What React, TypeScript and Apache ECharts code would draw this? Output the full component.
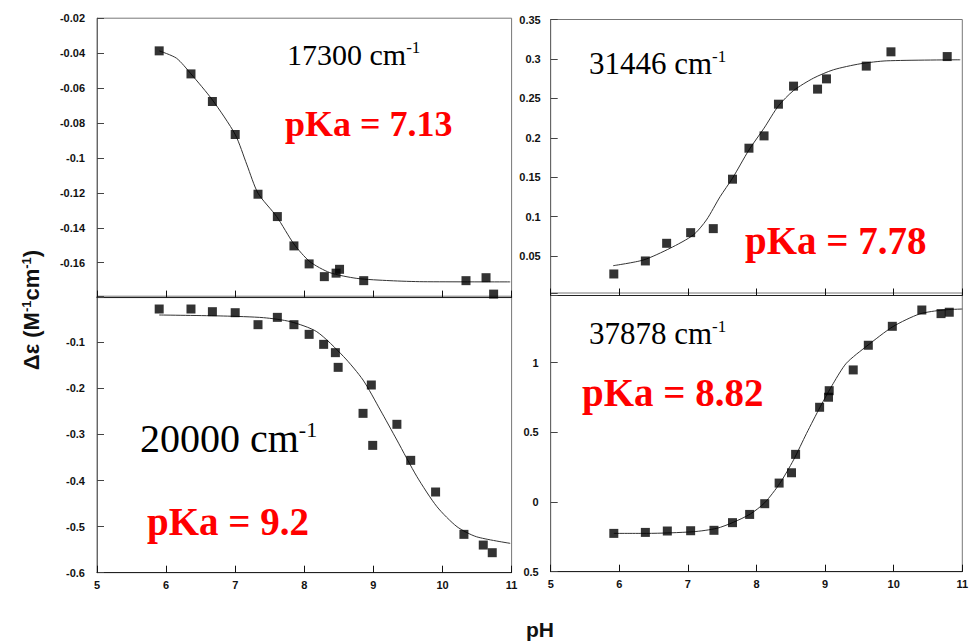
import React, { useEffect, useRef } from "react";
import * as echarts from "echarts";

// ---- measured points (pH, Δε) for each wavenumber ----
const ph17300 = [5.9, 6.36, 6.67, 7.0, 7.33, 7.61, 7.85, 8.07, 8.29, 8.46, 8.51, 8.86, 10.34, 10.63, 10.74];
const de17300 = [-0.0387, -0.0519, -0.0677, -0.0866, -0.1208, -0.1336, -0.1504, -0.1607, -0.168, -0.166, -0.1638, -0.1703, -0.1703, -0.1686, -0.178];

const ph31446 = [5.92, 6.38, 6.69, 7.04, 7.37, 7.65, 7.89, 8.11, 8.32, 8.54, 8.89, 9.02, 9.6, 9.96, 10.78];
const de31446 = [0.0273, 0.0438, 0.0662, 0.0797, 0.0848, 0.1475, 0.1868, 0.2024, 0.2426, 0.2655, 0.2617, 0.2747, 0.2909, 0.309, 0.303];

const ph20000 = [5.9, 6.36, 6.67, 7.0, 7.33, 7.61, 7.85, 8.07, 8.28, 8.45, 8.49, 8.85, 8.97, 8.99, 9.34, 9.54, 9.9, 10.31, 10.59, 10.72];
const de20000 = [-0.0278, -0.0278, -0.0336, -0.0358, -0.0618, -0.0459, -0.0618, -0.0828, -0.1045, -0.1225, -0.1544, -0.2542, -0.1927, -0.3237, -0.278, -0.3562, -0.4249, -0.5168, -0.54, -0.5566];

const ph37878 = [5.92, 6.38, 6.7, 7.04, 7.38, 7.65, 7.9, 8.12, 8.33, 8.51, 8.57, 8.92, 9.05, 9.06, 9.41, 9.63, 9.98, 10.41, 10.69, 10.81];
const de37878 = [-0.225, -0.218, -0.208, -0.206, -0.203, -0.148, -0.089, -0.012, 0.136, 0.21, 0.342, 0.68, 0.752, 0.799, 0.948, 1.125, 1.261, 1.378, 1.352, 1.362];

// ---- fitted titration curves ----
const fitPh17300 = [5.9, 6.15, 6.36, 6.67, 7.0, 7.17, 7.33, 7.6, 7.85, 8.08, 8.37, 8.76, 9.24, 9.72, 10.98];
const fitDe17300 = [-0.0387, -0.0429, -0.0519, -0.0668, -0.0866, -0.104, -0.1202, -0.1336, -0.1493, -0.1594, -0.1657, -0.169, -0.1703, -0.1709, -0.171];

const fitPh31446 = [5.91, 6.35, 6.74, 7.08, 7.27, 7.47, 7.65, 7.89, 8.11, 8.32, 8.54, 8.83, 9.12, 9.51, 9.9, 10.97];
const fitDe31446 = [0.0378, 0.045, 0.0599, 0.0768, 0.0958, 0.1254, 0.1487, 0.1846, 0.2122, 0.2405, 0.2599, 0.2756, 0.2862, 0.2938, 0.2976, 0.2989];

const fitPh20000 = [5.9, 6.83, 7.41, 7.8, 8.18, 8.57, 8.85, 9.1, 9.34, 9.63, 9.92, 10.21, 10.49, 10.98];
const fitDe20000 = [-0.0408, -0.043, -0.0466, -0.0553, -0.077, -0.1312, -0.1819, -0.247, -0.3121, -0.3916, -0.4568, -0.5002, -0.5219, -0.5363];

const fitPh37878 = [5.92, 6.4, 7.08, 7.42, 7.66, 7.91, 8.12, 8.34, 8.54, 8.73, 8.93, 9.12, 9.31, 9.61, 9.99, 10.38, 10.72, 11.0];
const fitDe37878 = [-0.225, -0.225, -0.213, -0.189, -0.146, -0.086, -0.005, 0.134, 0.302, 0.493, 0.684, 0.852, 0.996, 1.12, 1.259, 1.35, 1.378, 1.385];

// ---- annotations ----
const wavenumbers = ["17300", "31446", "20000", "37878"];
const pKaValues = ["7.13", "7.78", "9.2", "8.82"];

// ---- tick labels (listed from the axis minimum upward) ----
const xTickLabels = ["5", "6", "7", "8", "9", "10", "11"];
const yTicks17300 = ["", "-0.16", "-0.14", "-0.12", "-0.1", "-0.08", "-0.06", "-0.04", "-0.02"];
const yTicks31446 = ["", "0.05", "0.1", "0.15", "0.2", "0.25", "0.3", "0.35"];
const yTicks20000 = ["-0.6", "-0.5", "-0.4", "-0.3", "-0.2", "-0.1", ""];
const yTicks37878 = ["0.5", "0", "0.5", "1", ""];

const SERIF = '"Liberation Serif", "Times New Roman", serif';
const SANS = '"Liberation Sans", Arial, sans-serif';

const zip = (a: number[], b: number[]) => a.map((v, i) => [v, b[i]]);

const grids = [
  { left: 97, top: 18.2, width: 414.6, height: 279.4 },
  { left: 550.7, top: 19.5, width: 411.6, height: 276 },
  { left: 97, top: 296.2, width: 414.6, height: 276.5 },
  { left: 550.7, top: 293, width: 411.6, height: 278.7 },
];

const tickLabelStyle = {
  fontFamily: SANS,
  fontWeight: "bold" as const,
  fontSize: 11,
  color: "#111",
};

function xAxis(gridIndex: number, showLabels: boolean) {
  return {
    type: "value",
    gridIndex,
    min: 5,
    max: 11,
    interval: 1,
    axisLine: { show: true, onZero: false, lineStyle: { color: "#222", width: 1 } },
    axisTick: { show: true, inside: true, length: 7, lineStyle: { color: "#111" } },
    axisLabel: {
      show: showLabels,
      margin: 7,
      ...tickLabelStyle,
      formatter: (_v: number, i: number) => xTickLabels[i] ?? "",
    },
    splitLine: { show: false },
  };
}

function yAxis(gridIndex: number, min: number, max: number, interval: number, labels: string[], margin: number) {
  return {
    type: "value",
    gridIndex,
    min,
    max,
    interval,
    axisLine: { show: true, onZero: false, lineStyle: { color: "#666", width: 1 } },
    axisTick: { show: true, inside: true, length: 7, lineStyle: { color: "#444" } },
    axisLabel: {
      margin,
      ...tickLabelStyle,
      showMinLabel: true,
      showMaxLabel: true,
      formatter: (_v: number, i: number) => labels[i] ?? "",
    },
    splitLine: { show: false },
  };
}

function panelSeries(idx: number, ph: number[], de: number[], fitPh: number[], fitDe: number[]) {
  return [
    {
      type: "line",
      xAxisIndex: idx,
      yAxisIndex: idx,
      data: zip(fitPh, fitDe),
      smooth: 0.25,
      symbol: "none",
      lineStyle: { color: "#333", width: 1 },
      z: 2,
    },
    {
      type: "scatter",
      xAxisIndex: idx,
      yAxisIndex: idx,
      data: zip(ph, de),
      symbol: "rect",
      symbolSize: 9,
      itemStyle: { color: "#000" },
      z: 3,
    },
  ];
}

function wavenumberText(x: number, y: number, value: string, size: number) {
  return {
    type: "text",
    x,
    y,
    z: 10,
    style: {
      text: `{n|${value} cm}{s|-1}`,
      verticalAlign: "middle",
      rich: {
        n: { fontFamily: SERIF, fontSize: size, fill: "#000" },
        s: { fontFamily: SERIF, fontSize: Math.round(size * 0.55), fill: "#000", verticalAlign: "top" },
      },
    },
  };
}

function pKaText(x: number, y: number, value: string, size: number) {
  return {
    type: "text",
    x,
    y,
    z: 10,
    style: {
      text: `pKa = ${value}`,
      fontFamily: SERIF,
      fontWeight: "bold",
      fontSize: size,
      fill: "#ff0000",
      verticalAlign: "middle",
    },
  };
}

export default function App() {
  const ref = useRef<HTMLDivElement>(null);

  useEffect(() => {
    if (!ref.current) return;
    const chart = echarts.init(ref.current, undefined, { renderer: "svg" });

    const option = {
      animation: false,
      backgroundColor: "#ffffff",
      grid: grids.map((g) => ({
        ...g,
        show: true,
        borderColor: "#777",
        borderWidth: 1,
        backgroundColor: "transparent",
      })),
      xAxis: [xAxis(0, false), xAxis(1, false), xAxis(2, true), xAxis(3, true)],
      yAxis: [
        yAxis(0, -0.18, -0.02, 0.02, yTicks17300, 12),
        yAxis(1, 0, 0.35, 0.05, yTicks31446, 10),
        yAxis(2, -0.6, 0, 0.1, yTicks20000, 12),
        yAxis(3, -0.5, 1.5, 0.5, yTicks37878, 12),
      ],
      series: [
        ...panelSeries(0, ph17300, de17300, fitPh17300, fitDe17300),
        ...panelSeries(1, ph31446, de31446, fitPh31446, fitDe31446),
        ...panelSeries(2, ph20000, de20000, fitPh20000, fitDe20000),
        ...panelSeries(3, ph37878, de37878, fitPh37878, fitDe37878),
      ],
      graphic: [
        wavenumberText(287, 54, wavenumbers[0], 30),
        pKaText(285, 124, pKaValues[0], 36),
        wavenumberText(589, 63, wavenumbers[1], 31),
        pKaText(745, 240, pKaValues[1], 39),
        wavenumberText(140, 438.5, wavenumbers[2], 40),
        pKaText(147, 521, pKaValues[2], 39),
        wavenumberText(589, 333, wavenumbers[3], 31),
        pKaText(582, 392, pKaValues[3], 39),
        {
          type: "text",
          x: 31,
          y: 310,
          rotation: Math.PI / 2,
          z: 10,
          style: {
            text: "{a|Δε (M}{s|-1}{a|cm}{s|-1}{a|)}",
            align: "center",
            verticalAlign: "middle",
            rich: {
              a: { fontFamily: SANS, fontWeight: "bold", fontSize: 22, fill: "#111" },
              s: { fontFamily: SANS, fontWeight: "bold", fontSize: 13, fill: "#111", verticalAlign: "top" },
            },
          },
        },
        {
          type: "text",
          x: 540,
          y: 629,
          z: 10,
          style: {
            text: "pH",
            fontFamily: SANS,
            fontWeight: "bold",
            fontSize: 21,
            fill: "#111",
            align: "center",
            verticalAlign: "middle",
          },
        },
      ],
    };

    chart.setOption(option as any);
    return () => chart.dispose();
  }, []);

  return (
    <div
      ref={ref}
      style={{ position: "absolute", left: 0, top: 0, width: 972, height: 642, background: "#fff" }}
    />
  );
}
